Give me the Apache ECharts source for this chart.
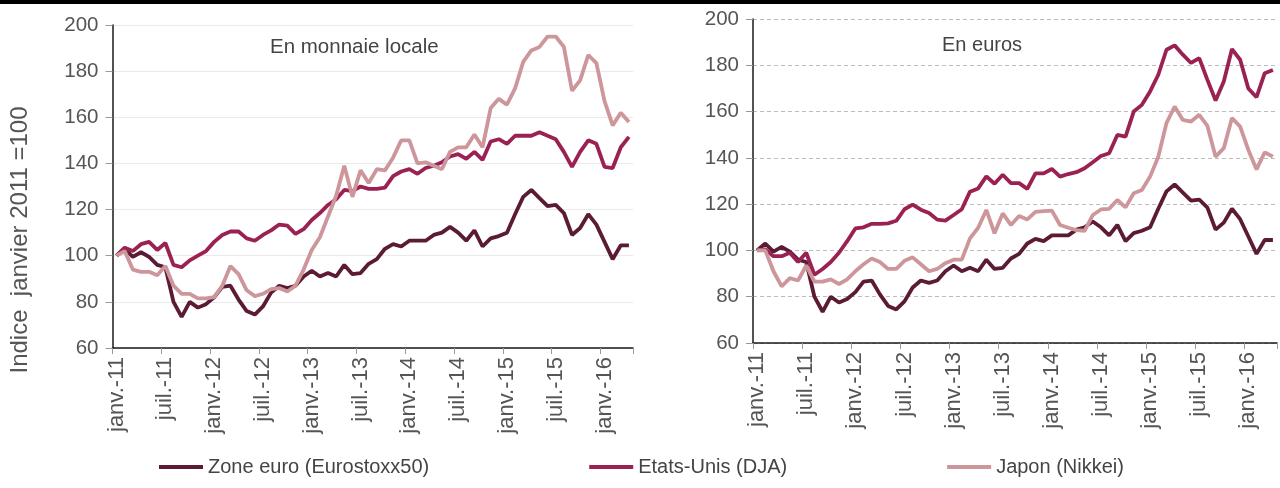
<!DOCTYPE html>
<html>
<head>
<meta charset="utf-8">
<script src="https://cdn.jsdelivr.net/npm/echarts@6/dist/echarts.min.js"></script>
<style>
html,body{margin:0;padding:0;background:#fff;}
#chart{width:1280px;height:488px;}
</style>
</head>
<body>
<div id="chart"></div>
<script>
// Monthly categories, janv.-11 .. avr.-16
const monthNames = ['janv.','févr.','mars','avr.','mai','juin','juil.','août','sept.','oct.','nov.','déc.'];
const categories = [];
for (let y = 11; y <= 16; y++) {
  for (let m = 0; m < 12; m++) {
    if (y === 16 && m > 3) break;
    categories.push(monthNames[m] + '-' + y);
  }
}

const yTicks = [60, 80, 100, 120, 140, 160, 180, 200];

// Zone euro (same in local currency and in euros)
const zoneEuro = [100,103,99.5,101.5,99.5,96,95,80,73.5,80,
  77.5,79,82,86.5,87,81,76,74.5,78,84,
  87,86,87,91,93.5,91,92.5,91,96,92,
  92.5,96.5,98.5,103,105,104,106.5,106.5,106.5,109,
  110,112.5,110,106.5,111,104,107.5,108.5,110,118,
  125.5,128.5,125,121.5,122,118.5,109,112,118,113.5,
  106,98.5,104.5,104.5];

// Local currency
const usLocal = [100,103.5,102,105,106,102.5,105.5,96,95,98,
  100,102,106,109,110.5,110.5,107.5,106.5,109,111,
  113.5,113,109.5,111.5,115.5,118.5,122,124.5,128.5,128,
  130,129,129,129.5,134.5,136.5,137.5,135.5,138,139,
  140.5,143,144,142,145,141.5,149.5,150.5,148.5,152,
  152,152,153.5,152,150.5,145,138.5,145,150,148.5,
  138.5,138,147,151.5];

const japanLocal = [100,102,94,93,93,91.5,95.5,87,83.5,83.5,
  81.5,81.5,82,87,95.5,92,85,82.5,83.5,85.5,
  86,84.5,87,94,102.5,108,117,126,139,125.5,
  137,131.5,137.5,137,142.5,150,150,140,140.5,139,
  137.5,145,147,147,152.5,147,164,168,165.5,172.5,
  184,189,190.5,195,195,190.5,171.5,176,187,183.5,
  167,156.5,162,158];

// In euros
const usEuro = [100,100.5,97.5,97.5,99,95,99,89.5,92,95,
  99,104,109.5,110,111.5,111.5,111.7,112.8,117.8,119.8,
  117.6,116.2,113.3,112.9,115.3,117.8,125.4,126.8,132,128.8,
  132.7,129.1,129.1,126.6,133.3,133.3,135.2,131.9,133,133.8,
  135.5,138.1,140.8,142,149.9,149.2,160,162.9,168.7,175.9,
  186.7,188.6,184.6,181,183.1,173.7,164.8,173,187,182.4,
  170,166.2,176.6,178];

const japanEuro = [100,100,91,84.5,88,87,93.5,86.5,86.5,87.5,
  85.5,87.5,91,94,96.5,95,92,92,95.5,97,
  94,91,92,94.5,96,96,105.2,109.8,117.5,107.4,
  116,111,114.9,113.4,116.7,117,117.2,111,109.8,108.8,
  108.5,115.3,117.7,118,121.8,118.6,124.7,126.1,131.9,140.5,
  155,162.2,156.4,155.7,158.6,153.8,140.5,144.2,157.2,153.5,
  143.4,135,142.4,140.5];

const seriesNames = ['Zone euro (Eurostoxx50)', 'Etats-Unis (DJA)', 'Japon (Nikkei)'];
const seriesColors = ['#5c1b35', '#9b2153', '#cc969b'];

const FONT = 'Liberation Sans';
const textColor = '#555555';

function xAxis(gridIndex) {
  return {
    type: 'category', gridIndex: gridIndex, data: categories, boundaryGap: true,
    axisLine: {lineStyle: {color: '#1a1a1a', width: 1.5}},
    axisTick: {show: true, interval: 5, length: 6, lineStyle: {color: '#999', width: 1}},
    axisLabel: {interval: 5, rotate: 90, margin: 9, color: textColor, fontSize: 22, fontFamily: FONT},
    splitLine: {show: false}
  };
}
function yAxis(gridIndex, gridStyle) {
  return {
    type: 'value', gridIndex: gridIndex, min: yTicks[0], max: yTicks[yTicks.length-1], interval: 20,
    axisLine: {show: true, lineStyle: {color: '#1a1a1a', width: 1.5}},
    axisTick: {show: true, length: 7, lineStyle: {color: '#999', width: 1}},
    axisLabel: {margin: 14, color: textColor, fontSize: 20.5, fontFamily: FONT},
    splitLine: {show: true, lineStyle: gridStyle}
  };
}
function line(name, data, idx, color) {
  return {
    name: name, type: 'line', xAxisIndex: idx, yAxisIndex: idx, data: data,
    showSymbol: false, symbol: 'none', smooth: false,
    lineStyle: {color: color, width: 3.8}, itemStyle: {color: color}
  };
}

const chart = echarts.init(document.getElementById('chart'), null, {renderer: 'canvas'});
chart.setOption({
  animation: false,
  backgroundColor: '#ffffff',
  grid: [
    {left: 112.5, top: 25, width: 520.5, height: 323},
    {left: 753, top: 19, width: 524, height: 324}
  ],
  xAxis: [xAxis(0), xAxis(1)],
  yAxis: [
    yAxis(0, {color: '#d4d4d4', width: 1, type: 'dotted'}),
    yAxis(1, {color: '#bdbdbd', width: 1.2, type: [4, 3]})
  ],
  legend: {
    data: seriesNames, left: 159, top: 457, padding: 0, itemWidth: 44, itemHeight: 4, itemGap: 160,
    icon: 'rect',
    textStyle: {color: '#444', fontSize: 20, fontFamily: FONT}
  },
  title: [
    {text: 'En monnaie locale', left: 270, top: 37, padding: 0, textStyle: {color: '#444', fontSize: 20.5, fontWeight: 'normal', fontFamily: FONT}},
    {text: 'En euros', left: 942, top: 35, padding: 0, textStyle: {color: '#444', fontSize: 20, fontWeight: 'normal', fontFamily: FONT}}
  ],
  graphic: [
    {type: 'rect', shape: {x: 0, y: 0, width: 1280, height: 4}, style: {fill: '#000'}},
    {type: 'text', x: 20, y: 240, rotation: Math.PI / 2,
      style: {text: 'Indice  janvier 2011 =100', fill: textColor, fontSize: 24, fontFamily: FONT,
        textAlign: 'center', textVerticalAlign: 'middle'}}
  ],
  series: [
    line(seriesNames[0], zoneEuro, 0, seriesColors[0]),
    line(seriesNames[1], usLocal, 0, seriesColors[1]),
    line(seriesNames[2], japanLocal, 0, seriesColors[2]),
    line(seriesNames[0], zoneEuro, 1, seriesColors[0]),
    line(seriesNames[1], usEuro, 1, seriesColors[1]),
    line(seriesNames[2], japanEuro, 1, seriesColors[2])
  ]
});
</script>
</body>
</html>
